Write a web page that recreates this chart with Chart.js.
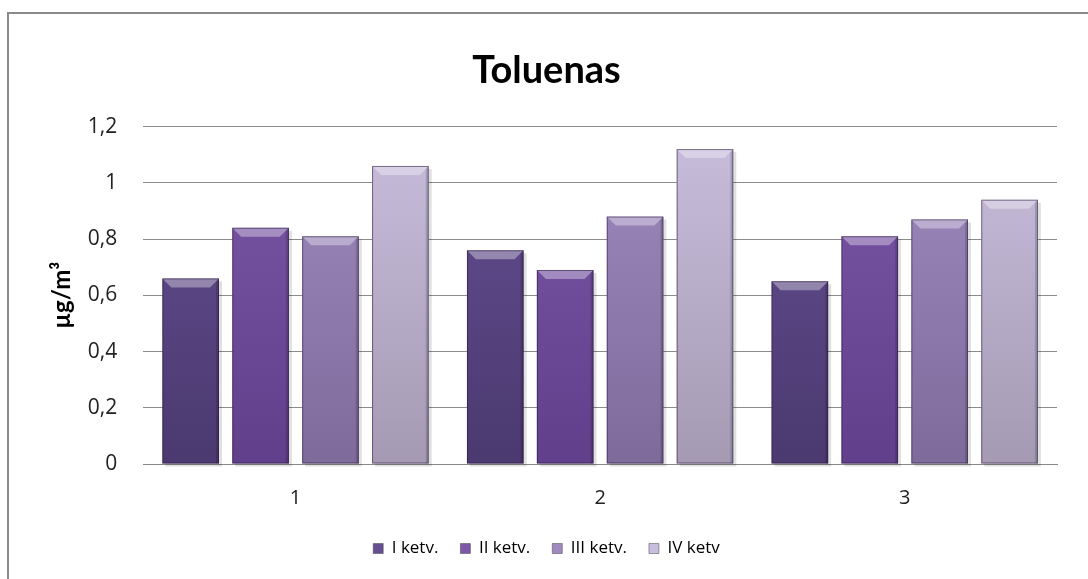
<!DOCTYPE html>
<html>
<head>
<meta charset="utf-8">
<script src="https://cdn.jsdelivr.net/npm/chart.js@4"></script>
<style>
  html, body { margin: 0; padding: 0; background: #fff; }
  .frame {
    position: absolute; left: 0; top: 0; width: 1088px; height: 579px; overflow: hidden;
  }
  .border {
    position: absolute; left: 7px; top: 12px; width: 1200px; height: 700px;
    border-left: 2px solid #8a8a8a; border-top: 2px solid #8a8a8a;
  }
  canvas { position: absolute; left: 0; top: 0; }
</style>
</head>
<body>
<div class="frame">
  <div class="border"></div>
  <canvas id="chart" width="1088" height="579"></canvas>
</div>
<script>
const categories = ["1", "2", "3"];
const seriesNames = ["I ketv.", "II ketv.", "III ketv.", "IV ketv"];
const kv1 = [0.66, 0.76, 0.65];
const kv2 = [0.84, 0.69, 0.81];
const kv3 = [0.81, 0.88, 0.87];
const kv4 = [1.06, 1.12, 0.94];

// top / bottom shades per series
const shades = [
  ["#654f92", "#4b3970"],
  ["#7c58a8", "#613f8b"],
  ["#a08ac0", "#7e6b9b"],
  ["#c8bedd", "#a59ab3"],
];

function barFill(i) {
  return (ctx) => {
    const chart = ctx.chart;
    const area = chart.chartArea;
    if (!area) return shades[i][0];
    const g = chart.ctx.createLinearGradient(0, area.top, 0, area.bottom);
    g.addColorStop(0, shades[i][0]);
    g.addColorStop(1, shades[i][1]);
    return g;
  };
}

// soft shadow + bevel on top edge of each bar
const bevelPlugin = {
  id: "bevel",
  beforeDatasetsDraw(chart) {
    const c = chart.ctx;
    c.save();
    chart.data.datasets.forEach((ds, di) => {
      chart.getDatasetMeta(di).data.forEach((bar) => {
        const w = bar.width;
        const x = bar.x - w / 2;
        c.fillStyle = "rgba(0,0,0,0.12)";
        c.fillRect(x + 3, bar.y + 3, w, bar.base - bar.y);
      });
    });
    c.restore();
  },
  afterDatasetsDraw(chart) {
    const c = chart.ctx;
    c.save();
    chart.data.datasets.forEach((ds, di) => {
      chart.getDatasetMeta(di).data.forEach((bar) => {
        const w = bar.width;
        const x = bar.x - w / 2;
        const y = bar.y;
        const b = 9;
        c.fillStyle = "rgba(255,255,255,0.35)";
        c.beginPath();
        c.moveTo(x, y);
        c.lineTo(x + w, y);
        c.lineTo(x + w - b, y + b);
        c.lineTo(x + b, y + b);
        c.closePath();
        c.fill();
        c.fillStyle = "rgba(0,0,0,0.15)";
        c.beginPath();
        c.moveTo(x + w, y);
        c.lineTo(x + w, bar.base);
        c.lineTo(x + w - 3, bar.base);
        c.lineTo(x + w - 3, y + 3);
        c.closePath();
        c.fill();
        c.strokeStyle = "rgba(40,25,60,0.55)";
        c.lineWidth = 1;
        c.strokeRect(x + 0.5, y + 0.5, w - 1, bar.base - y - 1);
      });
    });
    c.restore();
  },
};

const allValues = [kv1, kv2, kv3, kv4];

new Chart(document.getElementById("chart"), {
  type: "bar",
  data: {
    labels: categories,
    datasets: allValues.map((vals, i) => ({
      label: seriesNames[i],
      data: vals,
      backgroundColor: barFill(i),
      borderWidth: 0,
      categoryPercentage: 0.918,
      barPercentage: 0.81,
    })),
  },
  plugins: [bevelPlugin],
  options: {
    responsive: false,
    animation: false,
    layout: { padding: { left: 36, right: 31, top: 0, bottom: 12 } },
    plugins: {
      title: {
        display: true,
        text: "Toluenas",
        color: "#000",
        font: { family: "Lato", size: 38, weight: "bold" },
        padding: { top: 48, bottom: 33 },
      },
      legend: {
        position: "bottom",
        labels: {
          color: "#000",
          font: { family: "Open Sans", size: 17 },
          boxWidth: 10,
          boxHeight: 10,
          padding: 22,
          generateLabels(chart) {
            return chart.data.datasets.map((ds, i) => ({
              text: ds.label,
              fillStyle: shades[i][0],
              strokeStyle: "#444",
              lineWidth: 0.5,
              datasetIndex: i,
            }));
          },
        },
      },
      tooltip: { enabled: false },
    },
    scales: {
      x: {
        grid: { display: false, drawTicks: false },
        border: { color: "#888", width: 1 },
        ticks: { color: "#222", font: { family: "Open Sans", size: 20 }, padding: 22 },
        afterFit: (scale) => { scale.height = 54; },
      },
      y: {
        min: 0,
        max: 1.2,
        grid: { color: "#8c8c8c", drawTicks: false },
        border: { display: false },
        ticks: {
          stepSize: 0.2,
          color: "#222",
          padding: 26,
          font: { family: "Open Sans", size: 21 },
          callback: (v) => String(Math.round(v * 10) / 10).replace(".", ","),
        },
        title: {
          display: true,
          text: "µg/m³",
          color: "#000",
          font: { family: "Lato", size: 24, weight: "bold" },
          padding: { top: 12, bottom: -15 },
        },
      },
    },
  },
});
</script>
</body>
</html>
